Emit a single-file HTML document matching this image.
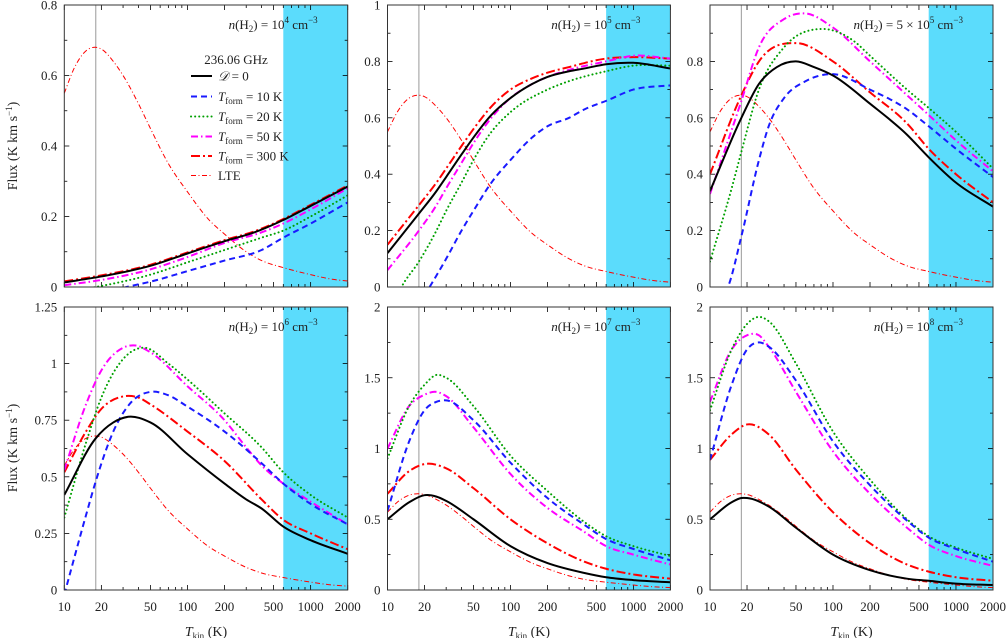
<!DOCTYPE html>
<html><head><meta charset="utf-8"><style>
html,body{margin:0;padding:0;background:#fff;}
svg{display:block;font-family:"Liberation Serif",serif;}
</style></head><body>
<svg id="chart" width="1007" height="638" viewBox="0 0 1007 638" xmlns="http://www.w3.org/2000/svg"></svg>
<script>
// ---- data ----
const xTickLabels = [10,20,50,100,200,500,1000,2000];
const panelTitles = ["10<tspan dy='-6' font-size='9'>4</tspan>","10<tspan dy='-6' font-size='9'>5</tspan>","5 × 10<tspan dy='-6' font-size='9'>5</tspan>","10<tspan dy='-6' font-size='9'>6</tspan>","10<tspan dy='-6' font-size='9'>7</tspan>","10<tspan dy='-6' font-size='9'>8</tspan>"];
const yMaxes = [0.8,1,1,1.25,2,2];
const yTickLabels1 = [0,0.2,0.4,0.6,0.8];
const yTickLabels2 = [0,0.2,0.4,0.6,0.8,1];
const yTickLabels3 = [0,0.2,0.4,0.6,0.8];
const yTickLabels4 = [0,0.25,0.5,0.75,1,1.25];
const yTickLabels5 = [0,0.5,1,1.5,2];
const yTickLabels6 = [0,0.5,1,1.5,2];
const lte = [[10,0.55],[12,0.62],[15,0.67],[18,0.68],[20,0.675],[25,0.64],[30,0.6],[40,0.52],[50,0.45],[70,0.35],[100,0.27],[150,0.19],[200,0.15],[300,0.1],[400,0.075],[600,0.055],[1000,0.035],[1500,0.022],[2000,0.017]];
// panel 1: n=1e4
const p1Black=[[10,0.013],[20,0.03],[50,0.06],[100,0.095],[200,0.13],[350,0.155],[600,0.19],[1000,0.23],[2000,0.285]];
const p1Blue=[[25,-0.01],[32,0],[50,0.015],[100,0.045],[200,0.075],[400,0.105],[600,0.14],[1000,0.18],[2000,0.24]];
const p1Green=[[15,-0.005],[18,0],[20,0.003],[50,0.035],[100,0.07],[200,0.105],[400,0.14],[600,0.16],[1000,0.2],[2000,0.26]];
const p1Mag=[[10,0.005],[20,0.02],[50,0.05],[100,0.085],[200,0.125],[400,0.155],[600,0.18],[1000,0.22],[2000,0.28]];
const p1Red=[[10,0.016],[20,0.033],[50,0.063],[100,0.098],[200,0.133],[350,0.158],[600,0.193],[1000,0.233],[2000,0.288]];
// panel 2: n=1e5
const p2Black=[[10,0.12],[18,0.26],[25,0.34],[30,0.39],[40,0.47],[50,0.53],[70,0.61],[100,0.67],[150,0.72],[200,0.745],[300,0.765],[400,0.775],[600,0.79],[1000,0.795],[2000,0.775]];
const p2Blue=[[20,-0.03],[22,0],[30,0.1],[40,0.2],[50,0.27],[70,0.37],[100,0.45],[150,0.53],[200,0.57],[300,0.6],[400,0.63],[600,0.66],[1000,0.7],[2000,0.715]];
const p2Green=[[12,-0.03],[13,0],[18,0.09],[25,0.2],[30,0.27],[40,0.37],[50,0.45],[70,0.55],[100,0.62],[200,0.7],[300,0.73],[600,0.765],[1000,0.785],[2000,0.785]];
const p2Mag=[[10,0.06],[18,0.2],[25,0.29],[30,0.35],[40,0.44],[50,0.51],[70,0.6],[100,0.67],[150,0.72],[200,0.745],[300,0.77],[600,0.8],[1000,0.82],[2000,0.81]];
const p2Red=[[10,0.15],[18,0.29],[25,0.37],[30,0.42],[40,0.5],[50,0.56],[70,0.64],[100,0.7],[150,0.74],[200,0.76],[300,0.78],[600,0.81],[1000,0.815],[2000,0.81]];
// panel 3: n=5e5
const p3Black=[[10,0.34],[18,0.6],[25,0.72],[35,0.78],[50,0.8],[70,0.78],[100,0.75],[200,0.65],[400,0.54],[600,0.46],[1000,0.37],[2000,0.285]];
const p3Blue=[[12,-0.05],[14,0],[18,0.18],[25,0.45],[30,0.57],[40,0.67],[60,0.73],[100,0.755],[200,0.7],[400,0.63],[600,0.57],[1000,0.49],[2000,0.39]];
const p3Green=[[10,0.09],[15,0.35],[18,0.48],[25,0.7],[40,0.85],[80,0.915],[150,0.87],[200,0.82],[400,0.7],[600,0.635],[1000,0.55],[2000,0.42]];
const p3Mag=[[10,0.33],[18,0.66],[25,0.85],[40,0.95],[60,0.97],[100,0.92],[200,0.8],[400,0.68],[600,0.61],[1000,0.52],[2000,0.41]];
const p3Red=[[10,0.4],[18,0.68],[25,0.8],[50,0.865],[100,0.8],[200,0.69],[400,0.58],[600,0.49],[1000,0.4],[2000,0.3]];
// panel 4: n=1e6
const p4Black=[[10,0.42],[18,0.67],[25,0.74],[33,0.765],[50,0.74],[100,0.6],[200,0.47],[300,0.4],[400,0.36],[600,0.28],[1000,0.22],[2000,0.16]];
const p4Blue=[[10,-0.02],[15,0.33],[18,0.48],[25,0.7],[35,0.83],[50,0.875],[70,0.86],[100,0.81],[200,0.7],[400,0.56],[600,0.47],[1000,0.38],[2000,0.29]];
const p4Green=[[10,0.32],[15,0.65],[20,0.85],[30,1.02],[45,1.07],[70,1.0],[100,0.93],[200,0.78],[400,0.63],[600,0.52],[1000,0.42],[2000,0.32]];
const p4Mag=[[10,0.53],[15,0.82],[20,0.97],[30,1.07],[38,1.08],[50,1.05],[100,0.9],[200,0.75],[300,0.63],[400,0.55],[600,0.47],[1000,0.39],[2000,0.29]];
const p4Red=[[10,0.52],[15,0.7],[20,0.8],[30,0.855],[40,0.85],[50,0.82],[100,0.7],[200,0.57],[400,0.4],[600,0.31],[1000,0.25],[2000,0.18]];
// panel 5: n=1e7
const p5Black=[[10,0.5],[15,0.62],[20,0.67],[25,0.66],[30,0.63],[50,0.5],[100,0.31],[200,0.19],[400,0.12],[600,0.09],[1000,0.07],[2000,0.055]];
const p5Blue=[[10,0.56],[15,1.05],[20,1.27],[25,1.33],[30,1.34],[50,1.2],[100,0.9],[200,0.65],[400,0.46],[600,0.36],[1000,0.29],[2000,0.21]];
const p5Green=[[10,0.93],[15,1.3],[20,1.45],[25,1.52],[30,1.5],[50,1.3],[100,0.95],[200,0.7],[400,0.48],[600,0.38],[1000,0.31],[2000,0.24]];
const p5Mag=[[10,1.0],[15,1.3],[20,1.38],[25,1.4],[30,1.37],[50,1.15],[100,0.82],[200,0.58],[400,0.41],[600,0.31],[1000,0.25],[2000,0.18]];
const p5Red=[[10,0.68],[15,0.84],[20,0.89],[30,0.86],[50,0.72],[100,0.5],[200,0.33],[400,0.2],[600,0.15],[1000,0.11],[2000,0.08]];
// panel 6: n=1e8
const p6Black=[[10,0.5],[15,0.62],[18,0.65],[20,0.65],[30,0.59],[50,0.44],[100,0.25],[200,0.14],[400,0.08],[600,0.065],[1000,0.045],[2000,0.035]];
const p6Blue=[[10,0.92],[15,1.45],[20,1.7],[25,1.75],[30,1.72],[50,1.48],[100,1.05],[200,0.74],[400,0.49],[600,0.37],[1000,0.29],[2000,0.2]];
const p6Green=[[10,1.27],[15,1.7],[20,1.88],[25,1.93],[30,1.9],[50,1.6],[100,1.12],[200,0.78],[400,0.5],[600,0.38],[1000,0.3],[2000,0.22]];
const p6Mag=[[10,1.33],[15,1.7],[20,1.8],[25,1.8],[30,1.72],[50,1.4],[100,0.98],[200,0.68],[400,0.44],[600,0.32],[1000,0.24],[2000,0.17]];
const p6Red=[[10,0.92],[15,1.1],[20,1.17],[30,1.1],[50,0.85],[100,0.55],[200,0.33],[400,0.18],[600,0.13],[1000,0.09],[2000,0.065]];
const bandStart = 600, bandEnd = 2000, refT = 18;

// ---- layout ----
const svg = document.getElementById('chart');
const NS = 'http://www.w3.org/2000/svg';
const panels = [
 {x0:64.3,x1:347.7,y0:5,y1:287,yt:yTickLabels1,minor:0.1,series:[p1Black,p1Blue,p1Green,p1Mag,p1Red]},
 {x0:387.5,x1:670.4,y0:5,y1:287,yt:yTickLabels2,minor:0.1,series:[p2Black,p2Blue,p2Green,p2Mag,p2Red]},
 {x0:710,x1:993,y0:5,y1:287,yt:yTickLabels3,minor:0.1,series:[p3Black,p3Blue,p3Green,p3Mag,p3Red]},
 {x0:64.3,x1:347.7,y0:307,y1:590,yt:yTickLabels4,minor:0.125,series:[p4Black,p4Blue,p4Green,p4Mag,p4Red]},
 {x0:387.5,x1:670.4,y0:307,y1:590,yt:yTickLabels5,minor:0.25,series:[p5Black,p5Blue,p5Green,p5Mag,p5Red]},
 {x0:710,x1:993,y0:307,y1:590,yt:yTickLabels6,minor:0.25,series:[p6Black,p6Blue,p6Green,p6Mag,p6Red]}
];
const styles = [
 {stroke:'#000',w:2,dash:'',name:'d0'},
 {stroke:'#1a1aff',w:2,dash:'6,4',name:'tform-10k'},
 {stroke:'#00a000',w:2,dash:'0.1,4',cap:'round',name:'tform-20k'},
 {stroke:'#ff00ff',w:2,dash:'7,3,1.5,3',name:'tform-50k'},
 {stroke:'#ff0000',w:2,dash:'9,3,2,3',name:'tform-300k'}
];
const lteStyle = {stroke:'#ff0000',w:1,dash:'5,2.5,1,2.5',name:'lte'};

function el(tag, attrs, parent){ const e=document.createElementNS(NS,tag); for(const k in attrs) e.setAttribute(k,attrs[k]); (parent||svg).appendChild(e); return e; }
const L = Math.log10;

function makeX(p){ return t => p.x0 + (L(t)-1)/L(200)*(p.x1-p.x0); }
function makeY(p,ymax){ return v => p.y1 - v/ymax*(p.y1-p.y0); }

// cubic Hermite in screen space with x-aware tangents
function pathFor(data,X,Y){
  const pts = data.map(d=>[X(d[0]),Y(d[1])]);
  const n=pts.length;
  const sec=[]; for(let i=0;i<n-1;i++) sec.push((pts[i+1][1]-pts[i][1])/(pts[i+1][0]-pts[i][0]));
  const m=[]; for(let i=0;i<n;i++){
    if(i===0) m.push(sec[0]); else if(i===n-1) m.push(sec[n-2]);
    else { const h0=pts[i][0]-pts[i-1][0], h1=pts[i+1][0]-pts[i][0]; m.push((sec[i-1]*h1+sec[i]*h0)/(h0+h1)); }
  }
  let d='M'+pts[0][0].toFixed(2)+','+pts[0][1].toFixed(2);
  for(let i=0;i<n-1;i++){
    const h=pts[i+1][0]-pts[i][0];
    const c1=[pts[i][0]+h/3, pts[i][1]+m[i]*h/3];
    const c2=[pts[i+1][0]-h/3, pts[i+1][1]-m[i+1]*h/3];
    d+=' C'+c1.map(v=>v.toFixed(2)).join(',')+' '+c2.map(v=>v.toFixed(2)).join(',')+' '+pts[i+1][0].toFixed(2)+','+pts[i+1][1].toFixed(2);
  }
  return d;
}

const defs = el('defs',{});
panels.forEach((p,i)=>{
  const X=makeX(p), Y=makeY(p,yMaxes[i]);
  const g=el('g',{});
  
  
  const cp=el('clipPath',{id:'clip'+i},defs);
  el('rect',{x:p.x0,y:p.y0,width:p.x1-p.x0,height:p.y1-p.y0},cp);
  const band=el('rect',{x:X(bandStart),y:p.y0,width:X(bandEnd)-X(bandStart),height:p.y1-p.y0,fill:'#5bdcfc'},g);
  
  
  const vl=el('line',{x1:X(refT),x2:X(refT),y1:p.y0,y2:p.y1,stroke:'#aaa','stroke-width':1.2},g);
  
  
  const ymax=yMaxes[i];
  for(let v=0; v<=ymax+1e-9; v+=p.minor){
    const y=Y(v); const major = p.yt.some(t=>Math.abs(t-v)<1e-6); const len=major?5:3;
    el('line',{x1:p.x0,x2:p.x0+len,y1:y,y2:y,stroke:'#000','stroke-width':0.8},g);
    el('line',{x1:p.x1,x2:p.x1-len,y1:y,y2:y,stroke:'#000','stroke-width':0.8},g);
  }
  p.yt.forEach(v=>{
    const t=el('text',{x:p.x0-7,y:Y(v)+4.5,'text-anchor':'end','font-size':13,fill:'#222'},g);
    t.textContent=String(v);
    
    
  });
  for(let dec=10; dec<=1000; dec*=10){
    for(let mm=1;mm<10;mm++){
      const t=dec*mm; if(t>2000) break;
      const x=X(t); const major=xTickLabels.includes(t); const len=major?5:3;
      el('line',{x1:x,x2:x,y1:p.y1,y2:p.y1-len,stroke:'#000','stroke-width':0.8},g);
      el('line',{x1:x,x2:x,y1:p.y0,y2:p.y0+len,stroke:'#000','stroke-width':0.8},g);
    }
  }
  if(i>=3){
    xTickLabels.forEach(t=>{
      const tx=el('text',{x:X(t),y:p.y1+21,'text-anchor':'middle','font-size':13,fill:'#222'},g);
      tx.textContent=String(t);
      
      
    });
    const xt=el('text',{x:(p.x0+p.x1)/2,y:p.y1+46,'text-anchor':'middle','font-size':14,fill:'#222'},g);
    xt.innerHTML="<tspan font-style='italic'>T</tspan><tspan font-size='9' dy='3'>kin</tspan><tspan dy='-3'>  (K)</tspan>";
    
    
  }
  const sg=el('g',{'clip-path':'url(#clip'+i+')'},g);
  const lp=el('path',{d:pathFor(lte,X,Y),fill:'none',stroke:lteStyle.stroke,'stroke-width':lteStyle.w,'stroke-dasharray':lteStyle.dash},sg);
  
  
  [4,3,2,1,0].forEach(k=>{
    const s=styles[k];
    const pa=el('path',{d:pathFor(p.series[k],X,Y),fill:'none',stroke:s.stroke,'stroke-width':s.w,'stroke-dasharray':s.dash,'stroke-linecap':s.cap||'butt'},sg);
    
    
  });
  const fr=el('rect',{x:p.x0,y:p.y0,width:p.x1-p.x0,height:p.y1-p.y0,fill:'none',stroke:'#333','stroke-width':1},g);
  
  
  const tt=el('text',{x:p.x1-30,y:p.y0+24,'text-anchor':'end','font-size':13,fill:'#222'},g);
  tt.innerHTML="<tspan font-style='italic'>n</tspan>(H<tspan font-size='9' dy='3'>2</tspan><tspan dy='-3'>) =  </tspan>"+panelTitles[i]+"<tspan dy='6'> cm</tspan><tspan dy='-6' font-size='9'>−3</tspan>";
  
  
});

[146,448].forEach(yc=>{
  const t=el('text',{x:0,y:0,transform:'translate(17,'+yc+') rotate(-90)','text-anchor':'middle','font-size':14,fill:'#222'});
  t.innerHTML="Flux  (K km s<tspan font-size='9' dy='-5'>−1</tspan><tspan dy='5'>)</tspan>";
  
  
});

const lg=el('g',{});


const lh=el('text',{x:236,y:64,'text-anchor':'middle','font-size':13,fill:'#222'},lg);
lh.textContent='236.06 GHz';
const legLabels=["<tspan font-style='italic'>𝒟</tspan> = 0","<tspan font-style='italic'>T</tspan><tspan font-size='9' dy='3'>form</tspan><tspan dy='-3'> = 10 K</tspan>","<tspan font-style='italic'>T</tspan><tspan font-size='9' dy='3'>form</tspan><tspan dy='-3'> = 20 K</tspan>","<tspan font-style='italic'>T</tspan><tspan font-size='9' dy='3'>form</tspan><tspan dy='-3'> = 50 K</tspan>","<tspan font-style='italic'>T</tspan><tspan font-size='9' dy='3'>form</tspan><tspan dy='-3'> = 300 K</tspan>","LTE"];
const legY=[76,96.5,116.5,136.5,156,175.5];
legLabels.forEach((lab,k)=>{
  const s = k<5 ? styles[k] : lteStyle;
  const e=el('g',{},lg);
  
  
  el('line',{x1:191,x2:212,y1:legY[k],y2:legY[k],stroke:s.stroke,'stroke-width':s.w,'stroke-dasharray':s.dash,'stroke-linecap':s.cap||'butt'},e);
  const t=el('text',{x:218,y:legY[k]+4.5,'font-size':13,fill:'#222'},e);
  t.innerHTML=lab;
});
</script>
</body></html>
